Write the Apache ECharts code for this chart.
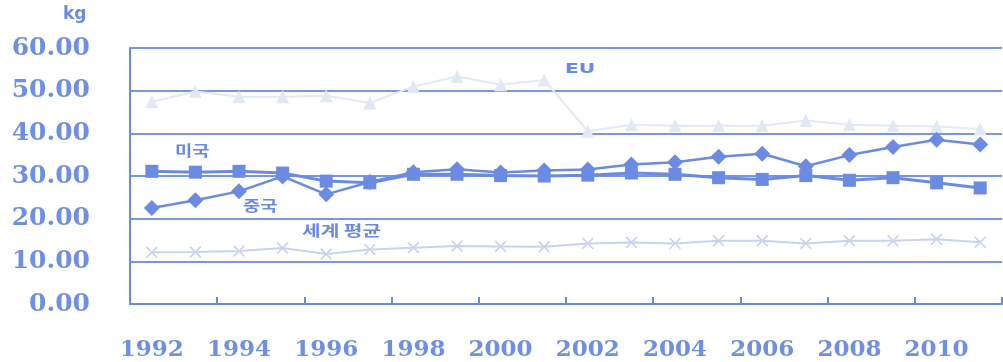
<!DOCTYPE html>
<html>
<head>
<meta charset="utf-8">
<script src="https://cdn.jsdelivr.net/npm/echarts@6/dist/echarts.min.js"></script>
<style>html,body{margin:0;padding:0;background:#fff;}#c{width:1003px;height:362px;}</style>
</head>
<body>
<div id="c"></div>
<script>
const years = ['1992','1993','1994','1995','1996','1997','1998','1999','2000','2001','2002','2003','2004','2005','2006','2007','2008','2009','2010','2011'];
const yTicks = [0, 10, 20, 30, 40, 50, 60];
const euValues = [47.4, 49.8, 48.6, 48.6, 48.8, 47.1, 51.0, 53.3, 51.4, 52.5, 40.5, 42.0, 41.8, 41.8, 41.8, 43.0, 42.0, 41.8, 41.6, 41.0];
const usaValues = [31.1, 30.9, 31.1, 30.7, 28.8, 28.4, 30.4, 30.4, 30.1, 30.0, 30.2, 30.7, 30.4, 29.6, 29.2, 30.1, 29.0, 29.6, 28.4, 27.2];
const chinaValues = [22.5, 24.3, 26.4, 29.9, 25.7, 28.6, 30.9, 31.6, 30.8, 31.3, 31.5, 32.7, 33.2, 34.5, 35.2, 32.3, 34.9, 36.8, 38.5, 37.4];
const worldValues = [12.1, 12.2, 12.4, 13.1, 11.7, 12.8, 13.2, 13.6, 13.5, 13.4, 14.2, 14.4, 14.2, 14.8, 14.8, 14.2, 14.8, 14.8, 15.2, 14.5];
const seriesNames = ['EU', '미국', '중국', '세계 평균'];

const blue = '#6b8be3';
const grid = '#7a95e6';
const euColor = '#e3e8f5';
const worldColor = '#c9d3f1';
const xPath = 'path://M0,1L1,0L5,4L9,0L10,1L6,5L10,9L9,10L5,6L1,10L0,9L4,5Z';

const chart = echarts.init(document.getElementById('c'), null, {renderer: 'canvas'});
chart.setOption({
  animation: false,
  backgroundColor: '#fff',
  grid: {left: 130, right: 1, top: 48, bottom: 58, containLabel: false},
  xAxis: {
    type: 'category',
    data: years,
    boundaryGap: true,
    axisLine: {show: true, lineStyle: {color: blue, width: 2}},
    axisTick: {show: true, inside: true, length: 7, lineStyle: {color: blue, width: 2}},
    axisLabel: {
      interval: 1,
      margin: 35,
      color: '#6f8fe2',
      fontFamily: 'DejaVu Serif',
      fontWeight: 'bold',
      fontSize: 23
    },
    splitLine: {show: false}
  },
  yAxis: {
    type: 'value',
    min: yTicks[0],
    max: yTicks[yTicks.length - 1],
    interval: 10,
    axisLine: {show: true, lineStyle: {color: blue, width: 2}},
    axisTick: {show: false},
    axisLabel: {
      margin: 40,
      color: '#6f8fe2',
      fontFamily: 'DejaVu Serif',
      fontWeight: 'bold',
      fontSize: 25,
      formatter: v => v.toFixed(2)
    },
    splitLine: {show: true, lineStyle: {color: grid, width: 2}}
  },
  graphic: [
    {type: 'text', x: 63, y: 6, style: {text: 'kg', fill: blue, font: 'bold 17px "DejaVu Sans"'}},
    {type: 'text', x: 565, y: 62, scaleX: 1.45, style: {text: seriesNames[0], fill: blue, font: 'bold 14px "DejaVu Sans"'}},
    {type: 'text', x: 175, y: 143, scaleX: 1.25, style: {text: seriesNames[1], fill: blue, font: 'bold 15px "Noto Sans CJK KR"'}},
    {type: 'text', x: 243, y: 198, scaleX: 1.25, style: {text: seriesNames[2], fill: blue, font: 'bold 15px "Noto Sans CJK KR"'}},
    {type: 'text', x: 302, y: 223, scaleX: 1.35, style: {text: seriesNames[3], fill: blue, font: 'bold 15px "Noto Sans CJK KR"'}}
  ],
  series: [
    {
      name: seriesNames[0], type: 'line', data: euValues,
      symbol: 'triangle', symbolSize: 13,
      lineStyle: {color: euColor, width: 2},
      itemStyle: {color: euColor},
      z: 2
    },
    {
      name: seriesNames[3], type: 'line', data: worldValues,
      symbol: xPath, symbolSize: 12,
      lineStyle: {color: worldColor, width: 2},
      itemStyle: {color: worldColor},
      z: 2
    },
    {
      name: seriesNames[1], type: 'line', data: usaValues,
      symbol: 'rect', symbolSize: 13,
      lineStyle: {color: blue, width: 3},
      itemStyle: {color: blue},
      z: 3
    },
    {
      name: seriesNames[2], type: 'line', data: chinaValues,
      symbol: 'diamond', symbolSize: 16,
      lineStyle: {color: blue, width: 2.5},
      itemStyle: {color: blue},
      z: 4
    }
  ]
});
</script>
</body>
</html>
